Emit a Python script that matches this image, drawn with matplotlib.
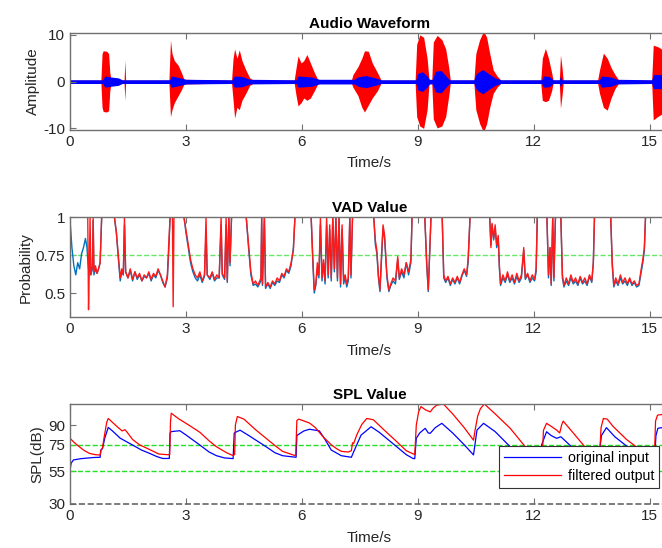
import numpy as np
import matplotlib
matplotlib.use("Agg")
from matplotlib import pyplot as plt

plt.rcParams['font.family'] = ['Liberation Sans', 'DejaVu Sans']
plt.rcParams['axes.unicode_minus'] = False

# ---- Audio waveform (envelopes) ----
# filtered output (red): time, upper and lower envelope
wave_out_t = [0.00, 0.80, 0.83, 0.86, 0.95, 1.00, 1.03, 1.06, 1.40, 1.42, 1.44,
              2.56, 2.60, 2.64, 2.70, 2.80, 2.88, 2.95,
              4.18, 4.22, 4.26, 4.32, 4.38, 4.45, 4.55, 4.65, 4.75,
              5.80, 5.85, 5.90, 5.98, 6.05, 6.13, 6.22, 6.32, 6.42,
              7.28, 7.32, 7.45, 7.55, 7.62, 7.72, 7.82, 7.95, 8.05,
              8.93, 8.97, 9.05, 9.15, 9.24, 9.29, 9.36, 9.40, 9.50, 9.62, 9.72, 9.80, 9.84,
              10.45, 10.50, 10.60, 10.70, 10.78, 10.86, 10.95, 11.05, 11.15,
              12.18, 12.22, 12.30, 12.38, 12.46, 12.50, 12.66, 12.69, 12.73, 12.76,
              13.65, 13.70, 13.80, 13.90, 14.00, 14.10, 14.20,
              15.05, 15.09, 15.20, 15.30, 15.50]
wave_out_hi = [0.3, 0.3, 6.0, 6.6, 6.5, 6.0, 2.0, 0.4, 0.3, 4.6, 0.3,
               0.3, 8.9, 6.0, 4.5, 3.5, 2.0, 0.5,
               0.3, 5.0, 7.0, 5.0, 6.8, 4.5, 2.5, 0.8, 0.3,
               0.3, 3.0, 5.5, 4.0, 4.5, 5.8, 4.0, 2.0, 0.3,
               0.3, 1.5, 3.2, 5.0, 6.6, 6.5, 4.0, 2.0, 0.3,
               0.3, 8.0, 10.0, 9.5, 5.0, 0.3, 0.3, 8.5, 9.9, 9.0, 7.0, 3.0, 0.3,
               0.3, 6.0, 9.0, 10.8, 9.5, 6.0, 2.5, 1.2, 0.3,
               0.3, 5.0, 7.1, 5.0, 2.0, 0.3, 0.3, 5.7, 3.0, 0.3,
               0.3, 2.5, 6.1, 5.0, 3.0, 1.5, 0.3,
               0.3, 7.8, 7.5, 7.0, 5.0]
wave_out_lo = [-0.3, -0.3, -5.5, -6.4, -6.5, -6.2, -2.0, -0.4, -0.3, -4.0, -0.3,
               -0.3, -7.5, -6.0, -4.5, -3.0, -1.8, -0.5,
               -0.3, -4.0, -7.8, -5.5, -6.0, -4.0, -2.5, -0.8, -0.3,
               -0.3, -3.0, -5.2, -4.5, -3.5, -4.0, -3.5, -2.0, -0.3,
               -0.3, -1.2, -3.0, -5.5, -6.5, -5.0, -3.5, -2.0, -0.3,
               -0.3, -7.5, -9.5, -10.0, -6.0, -0.3, -0.3, -8.0, -9.9, -9.5, -7.5, -3.0, -0.3,
               -0.3, -6.0, -9.0, -10.8, -9.0, -5.5, -2.5, -1.2, -0.3,
               -0.3, -4.0, -4.3, -4.0, -2.0, -0.3, -0.3, -5.7, -3.0, -0.3,
               -0.3, -2.5, -5.5, -6.1, -3.5, -1.5, -0.3,
               -0.3, -8.2, -7.5, -7.0, -5.0]

# original input (blue): time and amplitude envelope
wave_in_t = [0.00, 0.85, 0.90, 1.05, 1.25, 1.35, 2.58, 2.62, 2.80, 3.00,
             4.20, 4.25, 4.45, 4.65, 5.85, 5.90, 6.25, 6.45,
             7.35, 7.45, 7.65, 7.90, 8.05, 8.95, 9.00, 9.12, 9.24, 9.30,
             9.38, 9.45, 9.60, 9.75, 9.82, 10.45, 10.52, 10.68, 10.85, 11.00, 11.15,
             12.20, 12.25, 12.40, 12.50, 12.66, 12.69, 12.73,
             13.70, 13.75, 14.00, 14.15, 15.05, 15.10, 15.50]
wave_in_amp = [0.4, 0.4, 1.2, 1.0, 0.8, 0.4, 0.4, 1.2, 0.9, 0.5,
               0.4, 1.2, 1.1, 0.5, 0.4, 1.2, 1.0, 0.5,
               0.5, 1.0, 1.3, 0.8, 0.4, 0.4, 1.8, 2.1, 1.2, 0.5,
               0.5, 2.2, 2.4, 1.0, 0.4, 0.4, 1.8, 2.6, 1.6, 0.8, 0.4,
               0.4, 1.2, 1.1, 0.4, 0.4, 1.1, 0.4,
               0.4, 1.2, 1.0, 0.5, 0.4, 1.5, 1.5]

# ---- VAD value ----
vad_t = [0.00, 0.01, 0.05, 0.10, 0.15, 0.20, 0.25, 0.30, 0.35, 0.40, 0.44, 0.46,
         0.48, 0.50, 0.52, 0.54, 0.58, 0.60, 0.62, 0.66, 0.70, 0.74, 0.78, 0.82,
         1.15, 1.20, 1.26, 1.30, 1.34, 1.38, 1.41, 1.44,
         1.50, 1.56, 1.62, 1.68, 1.74, 1.80, 1.86, 1.92, 1.98, 2.04, 2.10, 2.16,
         2.22, 2.28, 2.34, 2.40, 2.46, 2.52, 2.56, 2.59, 2.65, 2.67, 2.69, 2.95,
         3.00, 3.06, 3.12, 3.18, 3.24, 3.30, 3.36, 3.42, 3.48, 3.52, 3.55, 3.62,
         3.68, 3.74, 3.80, 3.86, 3.91, 3.94, 4.00, 4.04, 4.07, 4.11, 4.14, 4.18,
         4.56, 4.62, 4.68, 4.74, 4.80, 4.86, 4.94, 4.96, 4.98, 5.03, 5.06, 5.12,
         5.18, 5.24, 5.30, 5.36, 5.42, 5.48, 5.54, 5.60, 5.66, 5.72, 5.78, 5.82,
         6.24, 6.28, 6.32, 6.36, 6.40, 6.44, 6.48, 6.52, 6.56, 6.60, 6.64, 6.68,
         6.72, 6.76, 6.80, 6.84, 6.88, 6.92, 6.96, 7.00, 7.04, 7.08, 7.12, 7.16,
         7.20, 7.24, 7.27, 7.31, 7.86, 7.90, 7.94, 7.98, 8.02, 8.06, 8.10, 8.14,
         8.20, 8.25, 8.30, 8.36, 8.42, 8.48, 8.52, 8.58, 8.64, 8.70, 8.76, 8.82,
         8.85, 9.18, 9.23, 9.27, 9.31, 9.34, 9.63, 9.67, 9.72, 9.78, 9.84, 9.90,
         9.96, 10.02, 10.08, 10.14, 10.20, 10.26, 10.30, 10.35, 10.86, 10.89, 10.92, 10.96,
         11.00, 11.04, 11.08, 11.11, 11.14, 11.20, 11.26, 11.32, 11.38, 11.44, 11.50, 11.56,
         11.62, 11.68, 11.74, 11.78, 11.84, 11.90, 11.96, 12.02, 12.06, 12.09, 12.34, 12.38,
         12.42, 12.45, 12.49, 12.52, 12.56, 12.70, 12.74, 12.78, 12.84, 12.90, 12.96, 13.02,
         13.08, 13.14, 13.20, 13.26, 13.32, 13.38, 13.44, 13.50, 13.54, 13.57, 13.99, 14.03,
         14.07, 14.12, 14.18, 14.24, 14.30, 14.36, 14.42, 14.48, 14.54, 14.60, 14.66, 14.72,
         14.78, 14.82, 14.86, 14.89, 15.50]
vad_out = [1.0, 1.0, 1.0, 1.0, 1.0, 1.0, 1.0, 1.0, 1.0, 1.0, 1.0, 1.0,
           0.39, 0.66, 1.0, 0.62, 0.68, 1.0, 0.64, 0.68, 0.63, 0.66, 0.70, 1.0,
           1.0, 0.90, 0.72, 0.60, 0.66, 0.62, 1.0, 0.64,
           0.60, 0.66, 0.59, 0.64, 0.60, 0.63, 0.58, 0.62, 0.60, 0.64, 0.59, 0.63,
           0.61, 0.66, 0.62, 0.58, 0.54, 0.62, 0.85, 1.0, 1.0, 0.41, 1.0, 1.0,
           0.92, 0.82, 0.72, 0.66, 0.62, 0.60, 0.64, 0.58, 0.62, 1.0, 0.62, 0.60,
           0.64, 0.59, 0.62, 0.60, 1.0, 0.63, 0.60, 1.0, 0.58, 1.0, 0.70, 1.0,
           1.0, 0.82, 0.64, 0.56, 0.58, 0.55, 0.60, 1.0, 0.56, 1.0, 0.54, 0.57,
           0.54, 0.58, 0.56, 0.60, 0.58, 0.63, 0.61, 0.66, 0.64, 0.70, 0.78, 1.0,
           1.0, 0.75, 0.52, 0.56, 0.70, 0.62, 1.0, 0.60, 0.72, 0.58, 1.0, 0.62,
           0.95, 0.60, 1.0, 0.66, 1.0, 0.60, 1.0, 0.56, 0.95, 0.58, 0.62, 0.56,
           0.60, 1.0, 0.62, 1.0, 1.0, 0.85, 0.78, 0.62, 0.52, 0.75, 0.95, 0.88,
           0.62, 0.52, 0.56, 0.60, 0.58, 0.74, 0.60, 0.66, 0.62, 0.70, 0.64, 0.72,
           1.0, 1.0, 0.70, 0.52, 0.80, 1.0, 1.0, 0.62, 0.58, 0.61, 0.56, 0.60,
           0.57, 0.61, 0.57, 0.62, 0.66, 0.62, 0.72, 1.0, 1.0, 0.80, 0.96, 0.86,
           0.95, 0.82, 0.88, 0.68, 0.56, 0.62, 0.58, 0.64, 0.58, 0.62, 0.57, 0.63,
           0.58, 0.62, 0.80, 0.60, 0.63, 0.58, 0.62, 0.59, 0.66, 1.0, 1.0, 0.62,
           0.80, 0.56, 1.0, 0.60, 1.0, 1.0, 0.62, 0.55, 0.60, 0.56, 0.62, 0.57,
           0.60, 0.56, 0.61, 0.57, 0.60, 0.56, 0.62, 0.58, 0.70, 1.0, 1.0, 0.70,
           0.55, 0.60, 0.56, 0.62, 0.57, 0.60, 0.56, 0.60, 0.56, 0.58, 0.55, 0.56,
           0.66, 0.72, 0.80, 1.0, 1.0]
vad_in = [0.34, 0.95, 0.80, 0.68, 0.62, 0.70, 0.66, 0.76, 0.80, 0.86, 0.80, 0.72,
          0.66, 0.64, 0.66, 0.62, 0.66, 0.98, 0.62, 0.66, 0.63, 0.66, 0.70, 1.0,
          1.0, 0.90, 0.70, 0.58, 0.64, 0.62, 0.95, 0.64,
          0.60, 0.65, 0.58, 0.64, 0.59, 0.62, 0.58, 0.61, 0.60, 0.63, 0.58, 0.62,
          0.60, 0.65, 0.62, 0.57, 0.54, 0.60, 0.80, 1.0, 1.0, 1.0, 1.0, 1.0,
          0.90, 0.80, 0.70, 0.64, 0.60, 0.58, 0.62, 0.57, 0.61, 0.90, 0.62, 0.59,
          0.63, 0.58, 0.60, 0.60, 0.95, 0.62, 0.59, 0.95, 0.57, 1.0, 0.68, 1.0,
          1.0, 0.80, 0.62, 0.55, 0.56, 0.54, 0.58, 1.0, 0.55, 1.0, 0.53, 0.56,
          0.53, 0.57, 0.55, 0.58, 0.57, 0.62, 0.60, 0.65, 0.63, 0.68, 0.80, 1.0,
          1.0, 0.72, 0.50, 0.55, 0.66, 0.60, 0.95, 0.58, 0.70, 0.56, 0.95, 0.60,
          0.92, 0.58, 1.0, 0.64, 1.0, 0.58, 1.0, 0.54, 0.92, 0.56, 0.60, 0.54,
          0.58, 1.0, 0.60, 1.0, 1.0, 0.82, 0.76, 0.60, 0.51, 0.72, 0.93, 0.86,
          0.60, 0.51, 0.55, 0.58, 0.56, 0.72, 0.59, 0.64, 0.60, 0.70, 0.62, 0.70,
          1.0, 1.0, 0.68, 0.51, 0.78, 1.0, 1.0, 0.60, 0.57, 0.60, 0.55, 0.59,
          0.56, 0.60, 0.56, 0.61, 0.65, 0.61, 0.70, 1.0, 1.0, 0.82, 0.95, 0.85,
          0.93, 0.80, 0.86, 0.66, 0.55, 0.60, 0.57, 0.62, 0.57, 0.60, 0.56, 0.61,
          0.57, 0.60, 0.78, 0.59, 0.62, 0.57, 0.60, 0.58, 0.64, 1.0, 1.0, 0.60,
          0.80, 0.55, 1.0, 0.58, 1.0, 1.0, 0.60, 0.54, 0.58, 0.55, 0.60, 0.56,
          0.58, 0.55, 0.60, 0.56, 0.58, 0.55, 0.61, 0.57, 0.70, 1.0, 1.0, 0.68,
          0.54, 0.58, 0.55, 0.60, 0.56, 0.58, 0.55, 0.59, 0.55, 0.57, 0.54, 0.55,
          0.64, 0.70, 0.78, 1.0, 1.0]

# ---- SPL value ----
spl_out_t = [0.00, 0.10, 0.20, 0.35, 0.50, 0.65, 0.78, 0.80, 0.84, 0.88, 0.95, 0.99,
             1.10, 1.25, 1.35, 1.42, 1.48, 1.62, 1.80, 2.05, 2.30, 2.50, 2.58, 2.60,
             2.62, 2.80, 3.10, 3.36, 3.60, 3.79, 4.05, 4.20, 4.26, 4.28, 4.33, 4.50,
             4.80, 5.07, 5.30, 5.50, 5.80, 5.84, 5.87, 5.92, 6.20, 6.35, 6.55, 6.76,
             6.90, 7.02, 7.20, 7.28, 7.31, 7.34, 7.42, 7.55, 7.68, 7.85, 8.10, 8.45,
             8.70, 8.92, 8.96, 9.02, 9.08, 9.20, 9.32, 9.40, 9.48, 9.66, 9.90, 10.20,
             10.44, 10.48, 10.55, 10.62, 10.72, 11.00, 11.39, 11.78, 12.00, 12.22, 12.25, 12.33,
             12.45, 12.59, 12.67, 12.72, 12.76, 13.02, 13.32, 13.60, 13.70, 13.74, 13.80, 13.90,
             14.05, 14.40, 14.65, 15.00, 15.12, 15.15, 15.20, 15.30, 15.50]
spl_out = [80.0, 77.0, 74.5, 71.0, 68.5, 67.5, 67.2, 71.0, 72.5, 80.0, 92.0, 95.0,
           92.0, 88.0, 85.5, 86.5, 84.5, 79.0, 75.0, 71.5, 68.0, 67.5, 67.5, 92.0,
           99.0, 95.0, 89.5, 84.5, 78.0, 73.5, 69.0, 67.0, 67.5, 90.0, 96.5, 94.5,
           86.5, 80.0, 74.5, 70.0, 67.0, 67.0, 93.5, 94.5, 91.5, 88.0, 81.0, 75.0,
           72.0, 70.0, 69.5, 70.5, 76.5, 76.0, 82.5, 90.5, 95.0, 94.0, 87.0, 77.5,
           70.5, 67.5, 90.0, 100.0, 104.0, 101.5, 100.0, 103.0, 105.0, 106.0, 98.5, 88.0,
           78.5, 86.0, 97.0, 102.5, 106.0, 98.5, 87.5, 73.5, 68.0, 66.0, 86.0, 91.3,
           89.0, 86.2, 84.0, 90.0, 93.0, 84.0, 73.5, 66.0, 66.0, 88.0, 95.0, 94.5,
           89.0, 79.0, 73.5, 66.0, 66.0, 93.0, 97.5, 98.0, 96.0]

spl_in_t = [0.00, 0.03, 0.09, 0.30, 0.60, 0.78, 0.80, 0.84, 0.90, 0.99, 1.10, 1.30,
            1.62, 1.85, 2.05, 2.25, 2.40, 2.57, 2.59, 2.62, 2.84, 3.00, 3.36, 3.60,
            3.79, 4.00, 4.22, 4.25, 4.40, 4.60, 5.07, 5.30, 5.50, 5.85, 5.87, 5.95,
            6.05, 6.20, 6.45, 6.60, 6.76, 7.02, 7.28, 7.36, 7.53, 7.79, 8.00, 8.45,
            8.70, 8.88, 8.92, 8.96, 9.05, 9.19, 9.27, 9.32, 9.45, 9.62, 9.90, 10.20,
            10.44, 10.53, 10.70, 11.00, 11.43, 11.80, 12.18, 12.20, 12.33, 12.45, 12.59, 12.70,
            12.93, 13.20, 13.68, 13.75, 13.88, 14.10, 14.42, 14.80, 15.13, 15.16, 15.21, 15.30,
            15.50]
spl_in = [55.5, 61.0, 63.5, 64.5, 65.3, 65.5, 71.0, 72.0, 80.0, 88.2, 85.5, 80.0,
          74.8, 71.0, 68.6, 66.0, 64.6, 64.6, 84.0, 85.0, 85.7, 82.5, 74.8, 69.5,
          66.7, 65.0, 64.5, 84.0, 86.1, 82.5, 73.6, 69.0, 66.7, 65.5, 82.0, 83.6,
          85.5, 86.8, 85.6, 79.0, 71.0, 66.7, 65.5, 71.0, 82.3, 88.7, 84.5, 73.6,
          67.5, 64.5, 64.5, 79.9, 84.0, 87.5, 84.0, 83.7, 88.0, 91.3, 84.0, 75.0,
          67.3, 86.2, 91.3, 85.0, 72.3, 66.0, 64.5, 74.8, 84.9, 82.0, 79.9, 81.1,
          74.8, 67.0, 65.0, 82.0, 88.0, 81.0, 73.6, 66.0, 65.0, 82.0, 87.5, 88.0,
          86.0]

time_ticks = [0, 3, 6, 9, 12, 15]
spine_col = '#707070'
text_col = '#262626'


def style_axes(ax):
    ax.set_xlim(0, 15.5)
    ax.set_xticks(time_ticks)
    ax.tick_params(direction='in', length=4, width=0.8, colors=spine_col,
                   labelcolor=text_col, labelsize=11, top=True, right=True)
    for s in ax.spines.values():
        s.set_color(spine_col)
        s.set_linewidth(1.0)
    ax.set_xlabel('Time/s', fontsize=11, color=text_col)
    ax.xaxis.set_label_coords(0.5, -0.27)


fig = plt.figure(figsize=(6.62, 5.48), dpi=100)
left, width = 0.1057, 0.905

# Audio waveform
ax1 = fig.add_axes([left, 0.7628, width, 0.1765])
ax1.fill_between(wave_out_t, wave_out_lo, wave_out_hi, color='#ff0000', lw=0)
ax1.fill_between(wave_in_t, -np.array(wave_in_amp), wave_in_amp, color='#0000ff', lw=0)
ax1.set_ylim(-10.35, 10.35)
ax1.set_yticks([-10, 0, 10])
style_axes(ax1)
ax1.set_ylabel('Amplitude', fontsize=11, color=text_col)
ax1.yaxis.set_label_coords(-0.05, 0.5)
ax1.set_title('Audio Waveform', fontsize=11, fontweight='bold', pad=4)

# VAD value
ax2 = fig.add_axes([left, 0.421, width, 0.1825])
ax2.axhline(0.75, color='#66e866', ls='--', lw=1)
ax2.plot(vad_t, vad_in, color='#0072BD', lw=1)
ax2.plot(vad_t, vad_out, color='#ff1a1a', lw=1)
ax2.set_ylim(0.34, 1.0)
ax2.set_yticks([0.5, 0.75, 1])
ax2.set_yticklabels(['0.5', '0.75', '1'])
style_axes(ax2)
ax2.set_ylabel('Probability', fontsize=11, color=text_col)
ax2.yaxis.set_label_coords(-0.062, 0.5)
ax2.set_title('VAD Value', fontsize=11, fontweight='bold', pad=3.5)

# SPL value
ax3 = fig.add_axes([left, 0.0803, width, 0.1825])
ax3.axhline(75, color='#22e022', ls='--', lw=1)
ax3.axhline(55, color='#22e022', ls='--', lw=1)
ax3.axhline(30, color='#666666', ls='--', lw=1.2, clip_on=False)
ax3.plot(spl_in_t, spl_in, color='#0000ff', lw=0.9, label='original input')
ax3.plot(spl_out_t, spl_out, color='#ff0000', lw=0.9, label='filtered output')
ax3.set_ylim(30, 106)
ax3.set_yticks([30, 55, 75, 90])
style_axes(ax3)
ax3.spines['bottom'].set_visible(False)
ax3.set_ylabel('SPL(dB)', fontsize=11, color=text_col)
ax3.yaxis.set_label_coords(-0.043, 0.5)
ax3.set_title('SPL Value', fontsize=11, fontweight='bold', pad=3.5)
leg = ax3.legend(loc='lower left', bbox_to_anchor=(0.716, 0.16), fontsize=10.2,
                 handlelength=4, fancybox=False, framealpha=1, edgecolor='#333333',
                 borderpad=0.35, labelspacing=0.3, handletextpad=0.5, borderaxespad=0)
leg.get_frame().set_linewidth(0.8)

fig.savefig('out.png', dpi=100)
